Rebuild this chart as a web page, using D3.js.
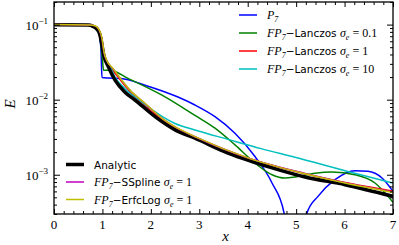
<!DOCTYPE html>
<html>
<head>
<meta charset="utf-8">
<script src="https://cdn.jsdelivr.net/npm/d3@7/dist/d3.min.js"></script>
<style>
body { margin: 0; background: #fff; }
svg { display: block; }
</style>
</head>
<body>
<svg id="chart" width="399" height="245"></svg>
<script>
// values (x, E)
var xP7 = [0, 0.743, 0.847, 0.929, 0.970, 0.991, 1.115, 1.383, 1.879, 2.560, 2.911, 3.324, 3.737, 4.15, 4.502, 4.75, 4.80, 4.97, 5.17, 5.224, 5.451, 5.802, 6.215, 6.484, 6.773, 7.0];
var eP7 = [0.0993, 0.0985, 0.0921, 0.0767, 0.0456, 0.0197, 0.0194, 0.0192, 0.0156, 0.01084, 0.00849, 0.00594, 0.00357, 0.00175, 0.000776, 0.00031, 0.00001, 0, 0.00001, 0.00031, 0.000515, 0.000859, 0.00113, 0.00111, 0.000904, 0.000600];

var xL01 = [0, 0.743, 0.847, 0.929, 0.970, 1.001, 1.022, 1.156, 1.528, 2.23, 2.911, 3.324, 3.737, 4.15, 4.502, 4.77, 4.976, 5.389, 5.74, 6.215, 6.628, 7.0];
var eL01 = [0.0993, 0.0985, 0.0921, 0.0767, 0.0531, 0.0336, 0.0247, 0.0247, 0.0192, 0.0115, 0.00617, 0.00417, 0.00250, 0.00143, 0.00100, 0.000904, 0.000933, 0.00105, 0.00109, 0.00100, 0.000776, 0.000429];

var xL1 = [0, 0.743, 0.847, 0.929, 0.991, 1.032, 1.156, 1.363, 1.673, 1.982, 2.23, 2.56, 2.911, 4.047, 5.183, 6.009, 7.0];
var eL1 = [0.1, 0.0991, 0.0949, 0.0840, 0.0619, 0.0404, 0.0280, 0.0185, 0.0108, 0.00729, 0.00545, 0.00402, 0.00316, 0.00163, 0.00103, 0.000787, 0.000604];

var xL10 = [0, 0.743, 0.847, 0.929, 0.991, 1.032, 1.156, 1.26, 1.466, 1.776, 2.23, 2.498, 2.911, 3.593, 4.295, 4.977, 6.009, 7.0];
var eL10 = [0.1, 0.0991, 0.0949, 0.0840, 0.0619, 0.0404, 0.0280, 0.0200, 0.0140, 0.0097, 0.00600, 0.00482, 0.00395, 0.00296, 0.00221, 0.00171, 0.00113, 0.000776];

var xAna = [0, 0.70, 0.805, 0.888, 0.950, 0.991, 1.032, 1.115, 1.260, 1.466, 1.673, 2.087, 2.50, 2.91, 3.593, 4.088, 4.625, 5.183, 6.009, 7.0];
var eAna = [0.0993, 0.0985, 0.0949, 0.0867, 0.0722, 0.0531, 0.0379, 0.0280, 0.0182, 0.0126, 0.00989, 0.00594, 0.00396, 0.00307, 0.00194, 0.00150, 0.00117, 0.000933, 0.000737, 0.000515];

var xSS = [0, 0.743, 0.847, 0.929, 0.991, 1.032, 1.088, 1.218, 1.425, 1.569, 1.879, 2.23, 2.56, 2.911, 4.047, 5.183, 6.009, 7.0];
var eSS = [0.1, 0.0991, 0.0960, 0.0860, 0.0645, 0.0425, 0.0332, 0.0259, 0.0172, 0.0133, 0.00890, 0.00562, 0.00412, 0.00321, 0.00164, 0.00104, 0.000785, 0.000590];

var xEL = [0, 0.743, 0.847, 0.929, 0.991, 1.032, 1.088, 1.218, 1.425, 1.569, 1.879, 2.23, 2.56, 2.911, 4.047, 5.183, 6.009, 7.0];
var eEL = [0.1, 0.0991, 0.0964, 0.0867, 0.0658, 0.0433, 0.0336, 0.0261, 0.0173, 0.0134, 0.00895, 0.00565, 0.00414, 0.00322, 0.00164, 0.00103, 0.000776, 0.000582];

var xTicks = [0, 1, 2, 3, 4, 5, 6, 7];
var yTicks = [0.001, 0.01, 0.1];
var yTickLabels = ["\u22123", "\u22122", "\u22121"];

var series = [
    {x: xP7, y: eP7, color: "#0000ff", w: 1.5},
    {x: xL01, y: eL01, color: "#008000", w: 1.5},
    {x: xL1, y: eL1, color: "#ff0000", w: 1.5},
    {x: xL10, y: eL10, color: "#00bfbf", w: 1.5},
    {x: xAna, y: eAna, color: "#000000", w: 3.5},
    {x: xSS, y: eSS, color: "#bf00bf", w: 1.5},
    {x: xEL, y: eEL, color: "#bfbf00", w: 1.5}
];

// legend labels: [text, style] pieces
var legendTop = [
    [["P", "it"], ["7", "sub"]],
    [["FP", "it"], ["7", "sub"], ["\u2212Lanczos ", "sans"], ["\u03c3", "it"], ["e", "sub"], [" = 0.1", "rm"]],
    [["FP", "it"], ["7", "sub"], ["\u2212Lanczos ", "sans"], ["\u03c3", "it"], ["e", "sub"], [" = 1", "rm"]],
    [["FP", "it"], ["7", "sub"], ["\u2212Lanczos ", "sans"], ["\u03c3", "it"], ["e", "sub"], [" = 10", "rm"]]
];
var legendBottom = [
    [["Analytic", "sans"]],
    [["FP", "it"], ["7", "sub"], ["\u2212SSpline ", "sans"], ["\u03c3", "it"], ["e", "sub"], [" = 1", "rm"]],
    [["FP", "it"], ["7", "sub"], ["\u2212ErfcLog ", "sans"], ["\u03c3", "it"], ["e", "sub"], [" = 1", "rm"]]
];

var svg = d3.select("#chart");
var margin = {left: 54, right: 6, top: 2, bottom: 31};
var width = 399 - margin.left - margin.right;
var height = 245 - margin.top - margin.bottom;
var serif = "'Liberation Serif', 'DejaVu Serif', serif";
var sans = "'DejaVu Sans', 'Liberation Sans', sans-serif";

var xScale = d3.scaleLinear().domain([0, 7]).range([0, width]);
var yScale = d3.scaleLog().domain([3e-4, 0.2]).range([height, 0]);

var g = svg.append("g").attr("transform", "translate(" + margin.left + "," + margin.top + ")");

g.append("clipPath").attr("id", "clip")
    .append("rect").attr("width", width).attr("height", height);

var line = d3.line()
    .defined(function(d) { return d[1] > 0; })
    .x(function(d) { return xScale(d[0]); })
    .y(function(d) { return yScale(d[1]); })
    .curve(d3.curveMonotoneX);

g.append("g").attr("clip-path", "url(#clip)")
    .selectAll("path")
    .data(series)
    .enter().append("path")
    .attr("d", function(s) { return line(d3.zip(s.x, s.y)); })
    .attr("fill", "none")
    .attr("stroke", function(s) { return s.color; })
    .attr("stroke-width", function(s) { return s.w; })
    .attr("stroke-linejoin", "round");

// minor ticks
var xMinor = d3.range(0, 7.001, 0.2).filter(function(v) { return Math.abs(v - Math.round(v)) > 0.01; });
var yMinor = [];
[1e-4, 1e-3, 1e-2, 1e-1].forEach(function(dec) {
    for (var k = 2; k <= 9; k++) {
        var v = k * dec;
        if (v >= 3e-4 && v <= 0.2) yMinor.push(v);
    }
});

function styleAxis(sel) {
    sel.select(".domain").remove();
    sel.selectAll("line").attr("stroke", "#000").attr("stroke-width", 1);
}

g.append("g").attr("transform", "translate(0," + height + ")")
    .call(d3.axisBottom(xScale).tickValues(xTicks).tickSize(-5).tickFormat("")).call(styleAxis);
g.append("g").attr("transform", "translate(0," + height + ")")
    .call(d3.axisBottom(xScale).tickValues(xMinor).tickSize(-3).tickFormat("")).call(styleAxis);
g.append("g")
    .call(d3.axisTop(xScale).tickValues(xTicks).tickSize(-5).tickFormat("")).call(styleAxis);
g.append("g")
    .call(d3.axisTop(xScale).tickValues(xMinor).tickSize(-3).tickFormat("")).call(styleAxis);

g.append("g")
    .call(d3.axisLeft(yScale).tickValues(yTicks).tickSize(-6).tickFormat("")).call(styleAxis);
g.append("g")
    .call(d3.axisLeft(yScale).tickValues(yMinor).tickSize(-3).tickFormat("")).call(styleAxis);
g.append("g").attr("transform", "translate(" + width + ",0)")
    .call(d3.axisRight(yScale).tickValues(yTicks).tickSize(-6).tickFormat("")).call(styleAxis);
g.append("g").attr("transform", "translate(" + width + ",0)")
    .call(d3.axisRight(yScale).tickValues(yMinor).tickSize(-3).tickFormat("")).call(styleAxis);

// frame
g.append("rect").attr("width", width).attr("height", height)
    .attr("fill", "none").attr("stroke", "#000").attr("stroke-width", 1.3);

// tick labels
g.selectAll(".xlab").data(xTicks).enter().append("text")
    .attr("x", function(d) { return xScale(d); })
    .attr("y", height + 15)
    .attr("text-anchor", "middle")
    .style("font-family", serif).style("font-size", "13px")
    .text(function(d) { return d; });

var yl = g.selectAll(".ylab").data(yTicks).enter().append("text")
    .attr("x", -6)
    .attr("y", function(d) { return yScale(d) + 5; })
    .attr("text-anchor", "end")
    .style("font-family", serif).style("font-size", "13px");
yl.append("tspan").text("10");
yl.append("tspan").attr("dy", -6).style("font-size", "9px")
    .text(function(d, i) { return yTickLabels[i]; });

// axis titles
g.append("text")
    .attr("x", width / 2 + 2).attr("y", height + 27)
    .attr("text-anchor", "middle")
    .style("font-family", serif).style("font-style", "italic").style("font-size", "15px")
    .text("x");
g.append("text")
    .attr("transform", "translate(" + (-39) + "," + (height / 2 - 4) + ") rotate(-90)")
    .attr("text-anchor", "middle")
    .style("font-family", serif).style("font-style", "italic").style("font-size", "15px")
    .text("E");

function drawLabel(text, parts) {
    var shift = 0;
    parts.forEach(function(p) {
        var t = text.append("tspan").text(p[0]);
        if (p[1] == "it") {
            t.style("font-family", serif).style("font-style", "italic").style("font-size", "12px");
        } else if (p[1] == "rm") {
            t.style("font-family", serif).style("font-size", "12px");
        } else if (p[1] == "sans") {
            t.style("font-family", sans).style("font-size", "10.5px");
        } else if (p[1] == "sub") {
            t.style("font-family", serif).style("font-style", "italic").style("font-size", "8px");
        }
        var want = p[1] == "sub" ? 3 : 0;
        if (want != shift) { t.attr("dy", want - shift); shift = want; }
    });
}

function drawLegend(items, colors, widths, x0, y0, dy) {
    var lg = svg.append("g");
    items.forEach(function(parts, i) {
        var yy = y0 + i * dy;
        lg.append("line")
            .attr("x1", x0).attr("x2", x0 + 18)
            .attr("y1", yy).attr("y2", yy)
            .attr("stroke", colors[i]).attr("stroke-width", widths[i]);
        var t = lg.append("text").attr("x", x0 + 28).attr("y", yy + 4);
        drawLabel(t, parts);
    });
}

drawLegend(legendTop, series.slice(0, 4).map(function(s) { return s.color; }),
    series.slice(0, 4).map(function(s) { return s.w; }), 239, 15, 18);
drawLegend(legendBottom, series.slice(4).map(function(s) { return s.color; }),
    series.slice(4).map(function(s) { return s.w; }), 66, 164.5, 17.5);
</script>
</body>
</html>
